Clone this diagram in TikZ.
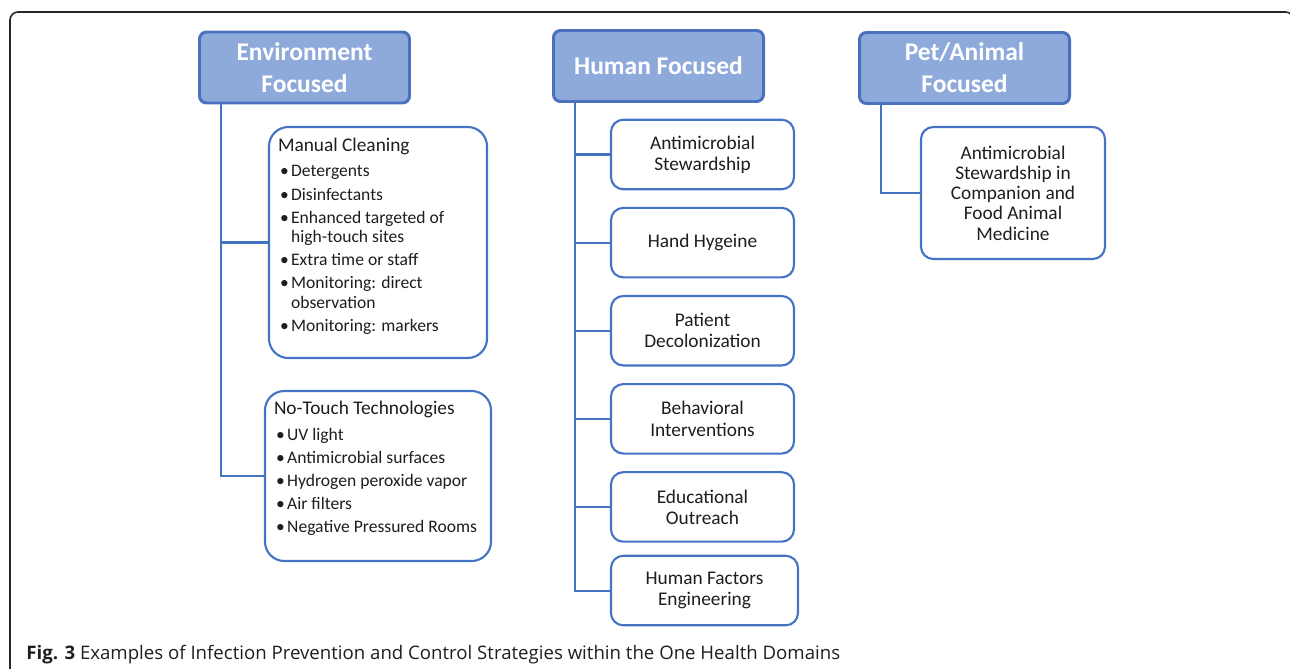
\documentclass[tikz,border=0pt]{standalone}
\usepackage{fontspec}
\setmainfont{Carlito}
\newfontfamily\capfont{Open Sans}
\usepackage{tikz}
\usetikzlibrary{positioning, calc}

\definecolor{headfill}{HTML}{8EAADB}
\definecolor{headline}{HTML}{4A70BF}
\definecolor{linkblue}{HTML}{4472C4}
\definecolor{txt}{HTML}{1E1E1E}

\newcommand{\listpt}[1]{\par\vspace{2.2pt}\hangindent=7.5pt\hangafter=1\noindent\makebox[7.5pt][l]{\hspace{1.2pt}\textbullet}#1}

\begin{document}
\begin{tikzpicture}[
    head/.style = {draw=headline, fill=headfill, line width=1.7pt, rounded corners=4pt,
        text=white, font=\fontsize{14.5}{18.2}\selectfont\bfseries, align=center,
        minimum width=4.2cm, minimum height=1.42cm},
    item/.style = {draw=linkblue, fill=white, line width=1.2pt, rounded corners=7pt,
        text=txt, font=\fontsize{11}{12}\selectfont, align=center,
        minimum width=3.66cm, minimum height=1.39cm},
    listbox/.style = {draw=linkblue, fill=white, line width=1.2pt, rounded corners=11pt,
        text=txt, inner xsep=0.18cm, inner ysep=0.1cm},
    link/.style = {draw=linkblue, line width=1.15pt},
    frame/.style = {draw=black!85, line width=0.9pt, rounded corners=0.16cm}
]
    \useasboundingbox (0,0) rectangle (25.8,-13.36);
    \clip (0,0) rectangle (25.8,-13.36);
    \draw[frame] (0.2,-14) |- (25.87,-0.24) -- (25.87,-14);

    \node[head] (envhead) at (6.09,-1.35) {Environment\\Focused};
    \node[head] (humanhead) at (13.17,-1.32) {Human Focused};
    \node[head] (pethead) at (19.29,-1.36) {Pet/Animal\\Focused};

    \node[listbox] (manual) at (7.56,-4.85) {%
        \begin{minipage}[c][4.42cm][t]{4.0cm}\raggedright
        \vspace*{3.2pt}
        \fontsize{11}{12}\selectfont Manual Cleaning\par\vspace{1.5pt}
        \fontsize{10}{11}\selectfont
        \listpt{Detergents}
        \listpt{Disinfectants}
        \listpt{Enhanced targeted of\newline high-touch sites}
        \listpt{Extra time or staff}
        \listpt{Monitoring: direct\newline observation}
        \listpt{Monitoring: markers}
        \end{minipage}};
    \node[listbox] (notouch) at (7.56,-9.52) {%
        \begin{minipage}[c][3.2cm][t]{4.16cm}\raggedright
        \vspace*{2.8pt}
        \fontsize{11}{12}\selectfont No-Touch Technologies\par\vspace{1.5pt}
        \fontsize{10}{11}\selectfont
        \listpt{UV light}
        \listpt{Antimicrobial surfaces}
        \listpt{Hydrogen peroxide vapor}
        \listpt{Air filters}
        \listpt{Negative Pressured Rooms}
        \end{minipage}};

    \node[item] (stewardship) at (14.05,-3.09) {Antimicrobial\\Stewardship};
    \node[item, below=0.33cm of stewardship] (hygiene) {Hand Hygeine};
    \node[item, below=0.33cm of hygiene] (decolon) {Patient\\Decolonization};
    \node[item, below=0.33cm of decolon] (behavior) {Behavioral\\Interventions};
    \node[item, below=0.33cm of behavior] (outreach) {Educational\\Outreach};
    \node[item, below=0.24cm of outreach, minimum width=3.74cm, xshift=0.04cm] (factors) {Human Factors\\Engineering};

    \node[item, minimum width=3.68cm, minimum height=2.64cm, font=\fontsize{11}{11.5}\selectfont]
        (petbox) at (20.26,-3.86) {Antimicrobial\\Stewardship in\\Companion and\\Food Animal\\Medicine};

    \coordinate (envtrunk) at ($(envhead.south west)+(0.46,0)$);
    \coordinate (humantrunk) at ($(humanhead.south west)+(0.46,0)$);
    \coordinate (pettrunk) at ($(pethead.south west)+(0.46,0)$);

    \draw[link] (envtrunk) |- (manual.west);
    \draw[link] (envtrunk) |- (notouch.west);

    \draw[link] (humantrunk) |- (stewardship.west);
    \draw[link] (humantrunk) |- (hygiene.west);
    \draw[link] (humantrunk) |- (decolon.west);
    \draw[link] (humantrunk) |- (behavior.west);
    \draw[link] (humantrunk) |- (outreach.west);
    \draw[link] (humantrunk) |- (factors.west);

    \draw[link] (pettrunk) |- (petbox.west);

    \node[anchor=base west, inner sep=0pt, text=txt, font=\capfont\fontsize{10.6}{12}\selectfont]
        (caption) at (0.52,-13.18) {\textbf{Fig. 3} Examples of Infection Prevention and Control Strategies within the One Health Domains};
\end{tikzpicture}
\end{document}
